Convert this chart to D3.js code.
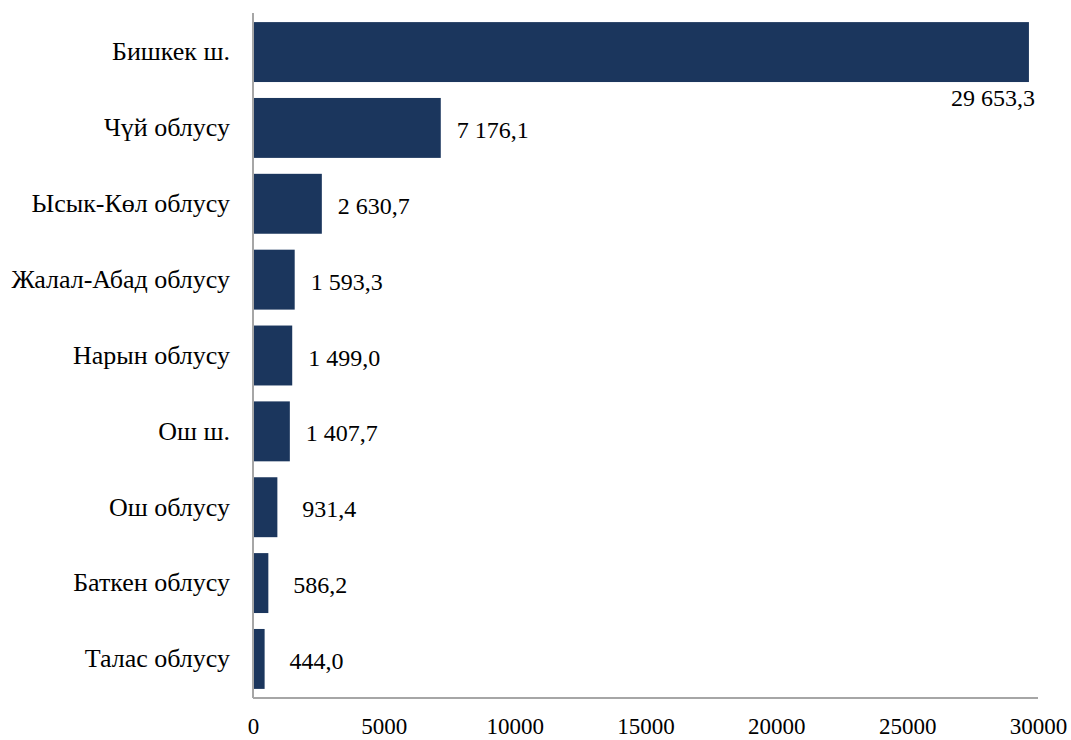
<!DOCTYPE html>
<html>
<head>
<meta charset="utf-8">
<script src="https://cdn.jsdelivr.net/npm/d3@7"></script>
<style>
  body { margin: 0; background: #fff; }
  text { font-family: "Liberation Serif", "Times New Roman", serif; fill: #000; }
</style>
</head>
<body>
<div id="chart"></div>
<script>
// regions and values
var regions = ["Бишкек ш.", "Чүй облусу", "Ысык-Көл облусу", "Жалал-Абад облусу",
               "Нарын облусу", "Ош ш.", "Ош облусу", "Баткен облусу", "Талас облусу"];
var values = [29653.3, 7176.1, 2630.7, 1593.3, 1499.0, 1407.7, 931.4, 586.2, 444.0];
var xTicks = [0, 5000, 10000, 15000, 20000, 25000, 30000];

var width = 1071, height = 740;
var margin = {left: 253, right: 33, top: 13, bottom: 42};

var ruLocale = d3.formatLocale({decimal: ",", thousands: " ", grouping: [3], currency: ["", ""]});
var fmt = ruLocale.format(",.1f");

var svg = d3.select("#chart").append("svg")
    .attr("width", width)
    .attr("height", height);

var x = d3.scaleLinear().domain([0, 30000]).range([margin.left, width - margin.right]);
var y = d3.scaleBand().domain(regions).range([margin.top, height - margin.bottom]).paddingInner(0.21).paddingOuter(0.12);

var data = regions.map(function(r, i) { return {name: r, value: values[i]}; });

// bars
svg.selectAll(".bar")
    .data(data)
    .enter().append("rect")
    .attr("class", "bar")
    .attr("x", x(0))
    .attr("y", function(d) { return y(d.name); })
    .attr("width", function(d) { return x(d.value) - x(0); })
    .attr("height", y.bandwidth())
    .style("fill", "#1b365d");

// value labels (the first one sits under the end of its bar)
svg.selectAll(".val")
    .data(data)
    .enter().append("text")
    .attr("class", "val")
    .attr("x", function(d, i) { return i == 0 ? x(d.value) + 6 : x(d.value) + 52; })
    .attr("y", function(d, i) { return i == 0 ? y(d.name) + y.bandwidth() + 24 : y(d.name) + y.bandwidth() / 2 + 10; })
    .attr("text-anchor", function(d, i) { return i == 0 ? "end" : "middle"; })
    .style("font-size", "24px")
    .text(function(d) { return fmt(d.value); });

// y axis (category labels)
var yAxis = svg.append("g")
    .attr("transform", "translate(" + x(0) + ",0)")
    .call(d3.axisLeft(y).tickSize(0).tickPadding(23));
yAxis.select(".domain").remove();
yAxis.selectAll("text")
    .style("font-size", "26px")
    .style("font-family", "Liberation Serif, serif");
svg.append("line")
    .attr("x1", x(0)).attr("x2", x(0))
    .attr("y1", margin.top).attr("y2", height - margin.bottom)
    .style("stroke", "#a6a6a6").style("stroke-width", 2);

// x axis
var xAxis = svg.append("g")
    .attr("transform", "translate(0," + (height - margin.bottom) + ")")
    .call(d3.axisBottom(x).tickValues(xTicks).tickFormat(d3.format("d")).tickSize(0).tickPadding(20));
xAxis.select(".domain").remove();
xAxis.selectAll("text")
    .style("font-size", "23px")
    .style("font-family", "Liberation Serif, serif");
svg.append("line")
    .attr("x1", x(0)).attr("x2", width - margin.right)
    .attr("y1", height - margin.bottom).attr("y2", height - margin.bottom)
    .style("stroke", "#a6a6a6").style("stroke-width", 2);
</script>
</body>
</html>
